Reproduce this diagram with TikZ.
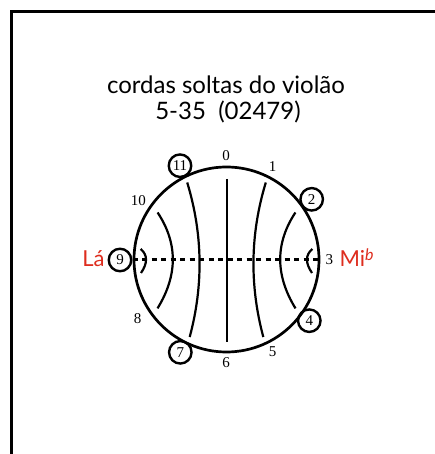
\documentclass[tikz,border=0pt]{standalone}
\usepackage{fontspec}
\setmainfont{Liberation Serif}
\newfontfamily\titlefont{Lato}
\definecolor{labred}{RGB}{222,45,30}
\begin{document}
\begin{tikzpicture}[x=1pt,y=1pt,
  num/.style={font=\fontsize{15}{15}\selectfont, inner sep=0pt},
  cnum/.style={circle, draw, line width=2.4pt, minimum size=22.5pt, inner sep=0pt, font=\fontsize{15}{15}\selectfont},
  chord/.style={line width=2.2pt},
  redlab/.style={font=\titlefont\fontsize{22}{22}\selectfont, text=labred, inner sep=0pt, anchor=base west},
  ttl/.style={font=\titlefont\fontsize{24}{24}\selectfont, inner sep=0pt, anchor=base}]
\useasboundingbox (0,0) rectangle (435,454);
\fill[white] (0,0) rectangle (435,454);
\begin{scope}
\clip (0,0) rectangle (435,454);
\draw[line width=3pt] (11.5,-30) -- (11.5,442.5) -- (470,442.5);
\end{scope}
\node[ttl] (t1) at (226,360.7) {cordas soltas do violão};
\node[ttl] (t2) at (228,334) {5-35\ \ (02479)};
\begin{scope}[shift={(226.5,194.5)}]
\node[circle, draw, line width=2.7pt, minimum size=185pt, inner sep=0pt] (wheel) at (0,0) {};
% chords
\draw[chord] (0.2,80.5) -- (0.2,-83);
\draw[chord] (-39.3,77) .. controls (-23.7,25.8) and (-22.9,-25.7) .. (-36.8,-77.5);
\draw[chord] (39.3,77) .. controls (23.7,25.8) and (22.9,-25.7) .. (36.8,-77.5);
\draw[chord] (-68.9,47) .. controls (-48.6,16.3) and (-48.6,-15.7) .. (-69,-48.9);
\draw[chord] (68.9,47) .. controls (48.6,16.3) and (48.6,-15.7) .. (69,-48.9);
\draw[chord] (-85.8,10.5) .. controls (-78.8,4.5) and (-78.7,-3.5) .. (-85.5,-13.5);
\draw[chord] (85.8,10.5) .. controls (78.8,4.5) and (78.7,-3.5) .. (85.5,-13.5);
\draw[line width=2.2pt, dash pattern=on 5pt off 4.5pt] (wheel.west) -- (wheel.east);
% numbers
\node[num] (n0) at (-0.5,103.8) {0};
\node[num] (n1) at (46.2,92.8) {1};
\node[cnum] (n2) at (85.2,60.2) {2};
\node[num] (n3) at (102.8,0.2) {3};
\node[cnum] (n4) at (82.8,-61.2) {4};
\node[num] (n5) at (46.2,-92.2) {5};
\node[num] (n6) at (-0.5,-102.8) {6};
\node[cnum] (n7) at (-46.2,-92.8) {7};
\node[num] (n8) at (-88.8,-58.8) {8};
\node[cnum] (n9) at (-106.5,-0.5) {9};
\node[num] (n10) at (-88.2,58.5) {10};
\node[cnum] (n11) at (-46.5,93.8) {11};
\node[redlab] (la) at (-144.3,-7.2) {Lá};
\node[redlab] (mi) at (112.8,-7.2) {Mi\raisebox{6.5pt}{\fontsize{16}{16}\selectfont\itshape b}};
\end{scope}
\end{tikzpicture}
\end{document}
